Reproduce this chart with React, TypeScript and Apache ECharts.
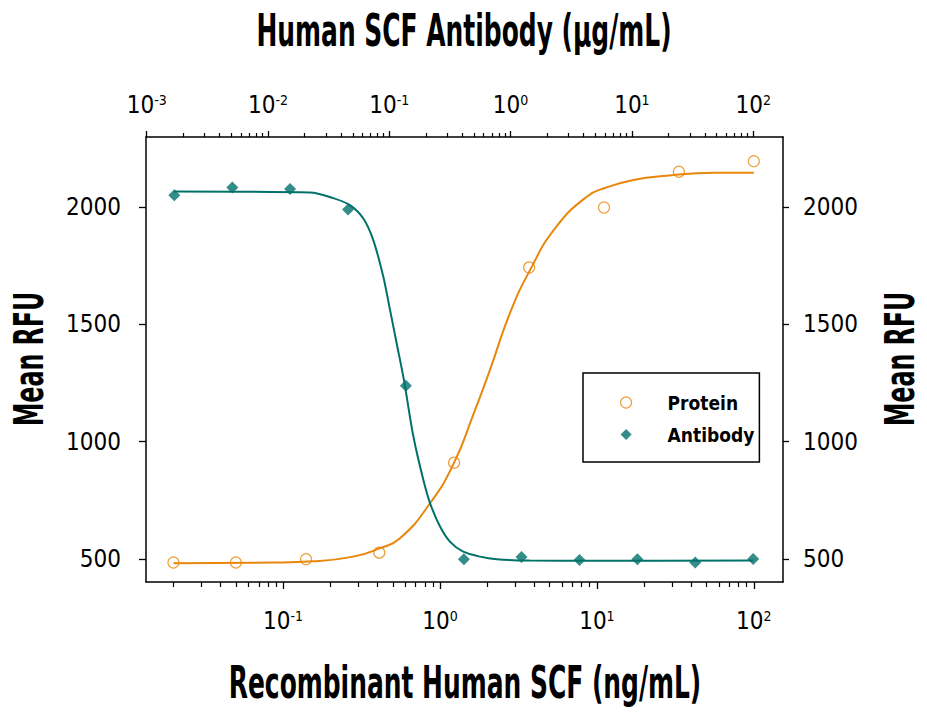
import React, { useEffect, useRef } from "react";
import * as echarts from "echarts";

// Measured points
const proteinConc = [0.02, 0.05, 0.14, 0.41, 1.23, 3.7, 11.1, 33.3, 100]; // ng/mL (bottom axis)
const proteinRFU = [486, 486, 500, 528, 911, 1742, 1997, 2149, 2194];
const antibodyConc = [0.00169, 0.00508, 0.0152, 0.0457, 0.137, 0.412, 1.23, 3.7, 11.1, 33.3, 100]; // µg/mL (top axis)
const antibodyRFU = [2049, 2082, 2076, 1988, 1238, 500, 509, 497, 500, 486, 501];

// Fitted curves
const proteinFitConc = [0.02, 0.086, 0.155, 0.28, 0.415, 0.556, 0.864, 1.23, 1.63, 2.08, 2.79, 3.75, 5.41, 8.61, 11.5, 17.1, 27.9, 55.2, 100];
const proteinFitRFU = [483, 486, 491, 511, 547, 589, 738, 911, 1115, 1305, 1547, 1731, 1908, 2043, 2082, 2114, 2132, 2145, 2145];
const antibodyFitConc = [0.00168, 0.0222, 0.0345, 0.0474, 0.0611, 0.0738, 0.0893, 0.1014, 0.115, 0.132, 0.158, 0.191, 0.217, 0.262, 0.316, 0.407, 0.56, 0.768, 1.44, 4.51, 100];
const antibodyFitRFU = [2065, 2061, 2037, 2007, 1950, 1858, 1702, 1561, 1419, 1263, 1022, 837, 738, 639, 575, 532, 511, 500, 494, 493, 494];

// Tick values
const yTicks = [500, 1000, 1500, 2000];
const bottomMajorTicks = [0.1, 1, 10, 100];
const bottomMinorTicks = [
  0.02, 0.03, 0.04, 0.05, 0.06, 0.07, 0.08, 0.09,
  0.2, 0.3, 0.4, 0.5, 0.6, 0.7, 0.8, 0.9,
  2, 3, 4, 5, 6, 7, 8, 9,
  20, 30, 40, 50, 60, 70, 80, 90,
];
const topMajorTicks = [0.001, 0.01, 0.1, 1, 10, 100];
const topMinorTicks = [
  0.002, 0.003, 0.004, 0.005, 0.006, 0.007, 0.008, 0.009,
  0.02, 0.03, 0.04, 0.05, 0.06, 0.07, 0.08, 0.09,
  0.2, 0.3, 0.4, 0.5, 0.6, 0.7, 0.8, 0.9,
  2, 3, 4, 5, 6, 7, 8, 9,
  20, 30, 40, 50, 60, 70, 80, 90,
];

const ORANGE = "#E8870B";
const TEAL = "#00716A";
const FONT = '"Liberation Sans Narrow", "DejaVu Sans Condensed", "Arial Narrow", sans-serif';

const zip = (xs: number[], ys: number[]) => xs.map((x, i) => [x, ys[i]]);

const powerLabel = (val: number) => {
  const e = Math.round(Math.log10(val));
  return `{b|10}{s|${e}}`;
};
const rich = {
  b: { fontSize: 24, lineHeight: 24, fontFamily: FONT, color: "#000" },
  s: { fontSize: 14, lineHeight: 14, fontFamily: FONT, color: "#000", verticalAlign: "top" },
};

const BOTTOM_MIN = 0.01337;
const BOTTOM_MAX = 153.5;
const TOP_MIN = 0.000987;
const TOP_MAX = 176.1;

export default function App() {
  const ref = useRef<HTMLDivElement>(null);
  useEffect(() => {
    if (!ref.current) return;
    const chart = echarts.init(ref.current, null, { renderer: "svg" });
    const axisLine = { show: true, onZero: false, lineStyle: { color: "#000", width: 1.5 } };
    const plainLabel = (v: number) => String(v);
    const titleStyle = (text: string, size: number) => ({
      text, x: 0, y: 0, fontSize: size, fontWeight: "bold", fontFamily: FONT, fill: "#000",
      align: "center", verticalAlign: "middle", textAlign: "center", textVerticalAlign: "middle",
    });
    const option: any = {
      animation: false,
      backgroundColor: "#fff",
      grid: { left: 146, right: 144, top: 137, bottom: 132, containLabel: false },
      xAxis: [
        {
          type: "log", logBase: 10, position: "bottom", min: BOTTOM_MIN, max: BOTTOM_MAX,
          axisLine,
          axisTick: { show: true, length: 7, customValues: bottomMajorTicks, lineStyle: { color: "#000", width: 1.3 } },
          axisLabel: { customValues: bottomMajorTicks, margin: 27, formatter: powerLabel, rich },
          splitLine: { show: false },
        },
        {
          type: "log", logBase: 10, position: "top", min: TOP_MIN, max: TOP_MAX,
          axisLine,
          axisTick: { show: true, length: 6, customValues: topMajorTicks, lineStyle: { color: "#000", width: 1.3 } },
          axisLabel: { customValues: topMajorTicks, margin: 20, formatter: powerLabel, rich },
          splitLine: { show: false },
        },
        {
          type: "log", logBase: 10, position: "bottom", min: BOTTOM_MIN, max: BOTTOM_MAX,
          axisLine: { show: false },
          axisTick: { show: true, length: 5, customValues: bottomMinorTicks, lineStyle: { color: "#000", width: 1.2 } },
          axisLabel: { show: false },
          splitLine: { show: false },
        },
        {
          type: "log", logBase: 10, position: "top", min: TOP_MIN, max: TOP_MAX,
          axisLine: { show: false },
          axisTick: { show: true, length: 4, customValues: topMinorTicks, lineStyle: { color: "#000", width: 1.2 } },
          axisLabel: { show: false },
          splitLine: { show: false },
        },
      ],
      yAxis: [
        {
          type: "value", position: "left", min: 403, max: 2297,
          axisLine,
          axisTick: { show: true, length: 7, customValues: yTicks, lineStyle: { color: "#000", width: 1.3 } },
          axisLabel: { customValues: yTicks, margin: 25, fontSize: 24, fontFamily: FONT, color: "#000", formatter: plainLabel },
          splitLine: { show: false },
        },
        {
          type: "value", position: "right", min: 403, max: 2297,
          axisLine,
          axisTick: { show: true, length: 6, customValues: yTicks, lineStyle: { color: "#000", width: 1.3 } },
          axisLabel: { customValues: yTicks, margin: 20, fontSize: 24, fontFamily: FONT, color: "#000", formatter: plainLabel },
          splitLine: { show: false },
        },
      ],
      legend: {
        orient: "vertical",
        left: 583,
        top: 373,
        padding: [20, 5, 18, 37],
        itemGap: 13,
        itemWidth: 73,
        itemHeight: 11,
        borderColor: "#000",
        borderWidth: 1.5,
        borderRadius: 0,
        backgroundColor: "#fff",
        selectedMode: false,
        textStyle: { fontFamily: FONT, fontSize: 19, fontWeight: "bold", color: "#000" },
        data: [
          { name: "Protein", icon: "circle", itemStyle: { color: "rgba(0,0,0,0)", borderColor: ORANGE, borderWidth: 1.2 } },
          { name: "Antibody", icon: "path://M5 0L10 5L5 10L0 5Z", itemStyle: { color: TEAL, borderWidth: 0 } },
        ],
      },
      graphic: [
        { type: "text", x: 464, y: 31, scaleX: 0.63, style: titleStyle("Human SCF Antibody (μg/mL)", 44) },
        { type: "text", x: 465, y: 683, scaleX: 0.63, style: titleStyle("Recombinant Human SCF (ng/mL)", 44) },
        { type: "text", x: 29.5, y: 359, rotation: Math.PI / 2, scaleX: 0.66, style: titleStyle("Mean RFU", 40) },
        { type: "text", x: 900, y: 359, rotation: Math.PI / 2, scaleX: 0.66, style: titleStyle("Mean RFU", 40) },
      ],
      series: [
        {
          name: "Protein fit", type: "line", xAxisIndex: 0, yAxisIndex: 0,
          data: zip(proteinFitConc, proteinFitRFU),
          showSymbol: false, symbol: "none", smooth: 0.5,
          lineStyle: { color: ORANGE, width: 2 }, itemStyle: { color: ORANGE }, z: 3, silent: true,
        },
        {
          name: "Antibody fit", type: "line", xAxisIndex: 1, yAxisIndex: 0,
          data: zip(antibodyFitConc, antibodyFitRFU),
          showSymbol: false, symbol: "none", smooth: 0.3,
          lineStyle: { color: TEAL, width: 2 }, itemStyle: { color: TEAL }, z: 3, silent: true,
        },
        {
          name: "Protein", type: "scatter", xAxisIndex: 0, yAxisIndex: 0,
          data: zip(proteinConc, proteinRFU),
          symbol: "circle", symbolSize: 11,
          itemStyle: { color: "rgba(0,0,0,0)", borderColor: ORANGE, borderWidth: 1.2 }, z: 4,
        },
        {
          name: "Antibody", type: "scatter", xAxisIndex: 1, yAxisIndex: 0,
          data: zip(antibodyConc, antibodyRFU),
          symbol: "diamond", symbolSize: 12,
          itemStyle: { color: TEAL }, z: 4,
        },
      ],
    };
    chart.setOption(option);
    return () => chart.dispose();
  }, []);
  return (
    <div
      ref={ref}
      style={{ position: "absolute", left: 0, top: 0, width: 927, height: 714 }}
    />
  );
}
